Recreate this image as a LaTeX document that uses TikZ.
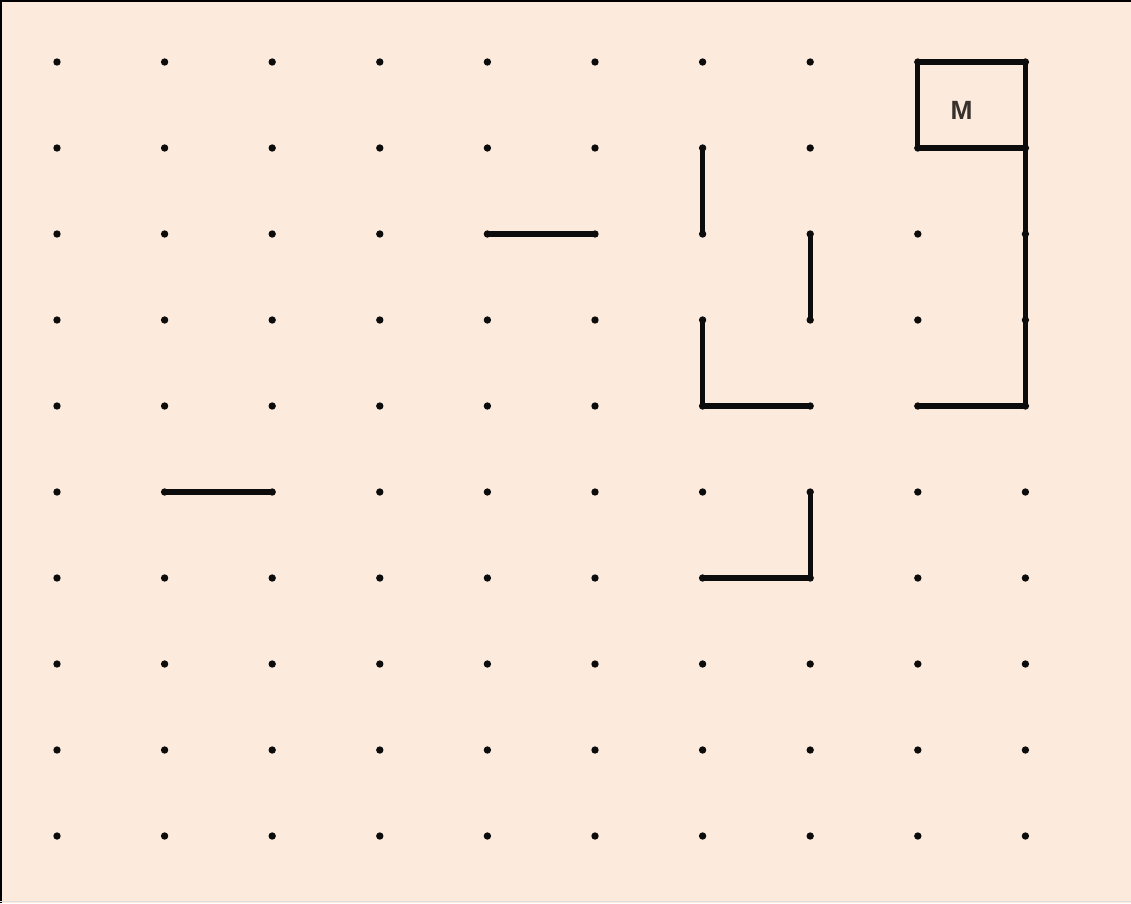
\documentclass[tikz,border=0pt]{standalone}
\usepackage{fontspec}
\setmainfont{Liberation Sans}
\usetikzlibrary{calc}
\definecolor{paper}{RGB}{252,234,220}
\definecolor{ink}{RGB}{12,12,12}
\definecolor{lettercol}{RGB}{55,48,44}

\begin{document}
\begin{tikzpicture}[x=0.02cm, y=-0.02cm,
    dot/.style={fill=ink},
    wall/.style={ink, line width=2.9pt, line cap=round, line join=round}]

    %% paper and frame
    \fill[paper] (0,0) rectangle (1131,903);
    \useasboundingbox (0,0) rectangle (1131,903);
    \draw[black, line width=1.2pt] (1,903) -- (1,1) -- (1131,1);
    \draw[gray!25, line width=0.8pt] (0,901.5) -- (1131,901.5);

    %% grid of dots
    \foreach \i in {1,...,10}
      \foreach \j in {1,...,10} {
        \coordinate (d-\i-\j) at ({57+107.6*(\i-1)}, {62+86*(\j-1)});
        \fill[dot] (d-\i-\j) circle (2.1pt);
      }

    %% single strokes
    \draw[wall] (d-5-3) -- (d-6-3);
    \draw[wall] (d-2-6) -- (d-3-6);
    \draw[wall] (d-7-2) -- (d-7-3);
    \draw[wall] (d-8-3) -- (d-8-4);
    \draw[wall] (d-7-4) -- (d-7-5) -- (d-8-5);
    \draw[wall] (d-8-6) -- (d-8-7) -- (d-7-7);

    %% box with M and its wall
    \draw[wall] (d-9-1) rectangle (d-10-2);
    \node[lettercol, font=\fontsize{15}{15}\selectfont\bfseries] (mark-m)
      at ($(d-9-1)!0.5!(d-10-2)+(-10,5)$) {M};
    \draw[wall] (d-10-2) -- (d-10-4) -- (d-10-5) -- (d-9-5);

\end{tikzpicture}
\end{document}
